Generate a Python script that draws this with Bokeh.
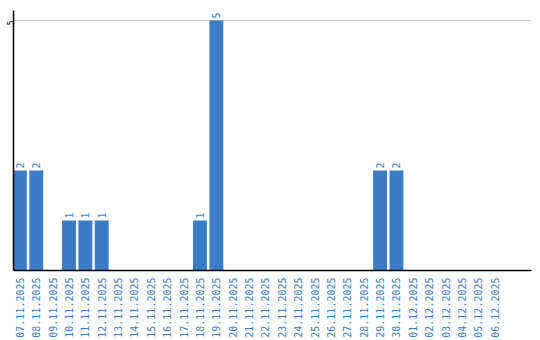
import math
from bokeh.plotting import figure
from bokeh.models import ColumnDataSource, FixedTicker, Range1d
from bokeh.core.properties import value
from bokeh.embed import file_html
from bokeh.resources import INLINE

dates = ["07.11.2025", "08.11.2025", "09.11.2025", "10.11.2025", "11.11.2025",
         "12.11.2025", "13.11.2025", "14.11.2025", "15.11.2025", "16.11.2025",
         "17.11.2025", "18.11.2025", "19.11.2025", "20.11.2025", "21.11.2025",
         "22.11.2025", "23.11.2025", "24.11.2025", "25.11.2025", "26.11.2025",
         "27.11.2025", "28.11.2025", "29.11.2025", "30.11.2025", "01.12.2025",
         "02.12.2025", "03.12.2025", "04.12.2025", "05.12.2025", "06.12.2025"]
counts = [2, 2, 0, 1, 1, 1, 0, 0, 0, 0, 0, 1, 5, 0, 0, 0, 0, 0, 0, 0, 0, 0,
          2, 2, 0, 0, 0, 0, 0, 0]
y_ticks = [5]

BLUE = "#3b7dc4"
idx = list(range(len(dates)))
src = ColumnDataSource(dict(x=idx, top=counts, label=[str(c) for c in counts]))
lab_src = ColumnDataSource(dict(
    x=[i for i, c in zip(idx, counts) if c > 0],
    y=[c for c in counts if c > 0],
    t=[str(c) for c in counts if c > 0]))

X0 = -0.39
p = figure(width=540, height=340, output_backend="svg", toolbar_location=None,
           x_range=Range1d(X0, 31.25), y_range=Range1d(0, 5.2),
           min_border_left=10, min_border_right=9, min_border_top=10,
           min_border_bottom=0)
p.outline_line_color = None
p.background_fill_color = "white"

p.vbar(x="x", top="top", width=0.85, source=src, color=BLUE, line_color=None)
p.text(x="x", y="y", text="t", source=lab_src, angle=math.pi / 2,
       x_offset=0, y_offset=-2, text_align="left", text_baseline="middle",
       text_color=BLUE, text_font_size="10px", text_font=value("DejaVu Sans Mono"))

p.xgrid.grid_line_color = None
p.ygrid.ticker = FixedTicker(ticks=y_ticks)
p.ygrid.grid_line_color = "#c8c8c8"

p.xaxis.ticker = FixedTicker(ticks=idx)
p.xaxis.major_label_overrides = {i: d for i, d in zip(idx, dates)}
p.xaxis.major_label_orientation = math.pi / 2
p.xaxis.major_label_text_color = BLUE
p.xaxis.major_label_text_font = "DejaVu Sans Mono"
p.xaxis.major_label_text_font_size = "10px"
p.xaxis.major_label_standoff = 1
p.xaxis.major_tick_line_color = None
p.xaxis.minor_tick_line_color = None
p.xaxis.axis_line_color = "black"
p.xaxis.axis_line_width = 1.5

p.yaxis.ticker = FixedTicker(ticks=y_ticks)
p.yaxis.major_label_orientation = math.pi / 2
p.yaxis.major_label_text_font = "DejaVu Sans Mono"
p.yaxis.major_label_text_font_size = "8px"
p.yaxis.major_label_text_line_height = 0.6
p.yaxis.major_label_text_color = "black"
p.yaxis.major_label_standoff = -3
p.yaxis.major_tick_line_color = None
p.yaxis.minor_tick_line_color = None
p.yaxis.axis_line_color = "black"
p.yaxis.axis_line_width = 1.5

open("out.html", "w").write(file_html(p, INLINE))
